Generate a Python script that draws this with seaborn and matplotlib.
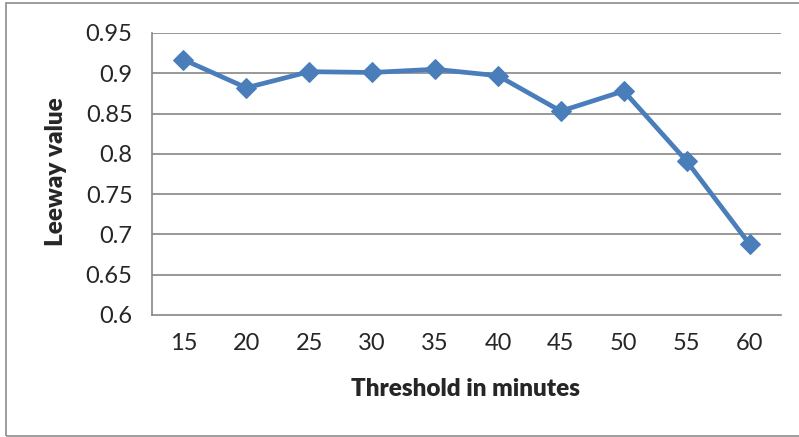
import matplotlib
matplotlib.use("Agg")
import matplotlib.pyplot as plt
import seaborn as sns
import pandas as pd
from matplotlib.patches import Rectangle

thresholds = ["15", "20", "25", "30", "35", "40", "45", "50", "55", "60"]
leeway = [0.917, 0.882, 0.902, 0.901, 0.905, 0.897, 0.853, 0.878, 0.791, 0.688]
yticks = [0.6, 0.65, 0.7, 0.75, 0.8, 0.85, 0.9, 0.95]
ytick_labels = ["0.6", "0.65", "0.7", "0.75", "0.8", "0.85", "0.9", "0.95"]

sns.set_style("white")
plt.rcParams['font.family'] = ['Lato', 'DejaVu Sans']

df = pd.DataFrame({"Threshold": thresholds, "Leeway": leeway})

fig = plt.figure(figsize=(7.99, 4.37), dpi=100)
ax = fig.add_axes([152/799, 1-315/437, (781-152)/799, (315-33)/437])

fig.patches.append(Rectangle((6/799, 1-436/437), 1.2, 433/437, transform=fig.transFigure,
                             fill=False, edgecolor="#8c8c8c", linewidth=1.2))

grid_c = "#868686"
for y in yticks[1:]:
    ax.axhline(y, color=grid_c, linewidth=1.2, zorder=0)

sns.lineplot(data=df, x="Threshold", y="Leeway", ax=ax, color="#4A7EBB",
             linewidth=3.4, marker="D", markersize=10.5, markeredgecolor="#4A7EBB",
             sort=False, zorder=3)

ax.set_xlim(-0.5, 9.5)
ax.set_ylim(0.6, 0.95)
ax.set_yticks(yticks)
ax.set_yticklabels(ytick_labels, fontsize=17)
ax.set_xticks(range(len(thresholds)))
ax.set_xticklabels(thresholds, fontsize=17)
ax.set_xticks([i - 0.5 for i in range(len(thresholds) + 1)], minor=True)
ax.tick_params(axis='x', which='major', length=0, pad=13)
ax.tick_params(axis='x', which='minor', length=6, width=1.2, color=grid_c, direction='out')
ax.tick_params(axis='y', which='major', length=6, width=1.2, color=grid_c, direction='out', pad=8)

for s in ["top", "right"]:
    ax.spines[s].set_visible(False)
for s in ["left", "bottom"]:
    ax.spines[s].set_color(grid_c)
    ax.spines[s].set_linewidth(1.2)

ax.set_xlabel("Threshold in minutes", fontsize=17.5, fontweight="heavy")
ax.set_ylabel("Leeway value", fontsize=17.5, fontweight="heavy")
ax.xaxis.set_label_coords(0.498, -0.225)
ax.yaxis.set_label_coords(-0.135, 0.507)

fig.savefig("out.png", dpi=100)
